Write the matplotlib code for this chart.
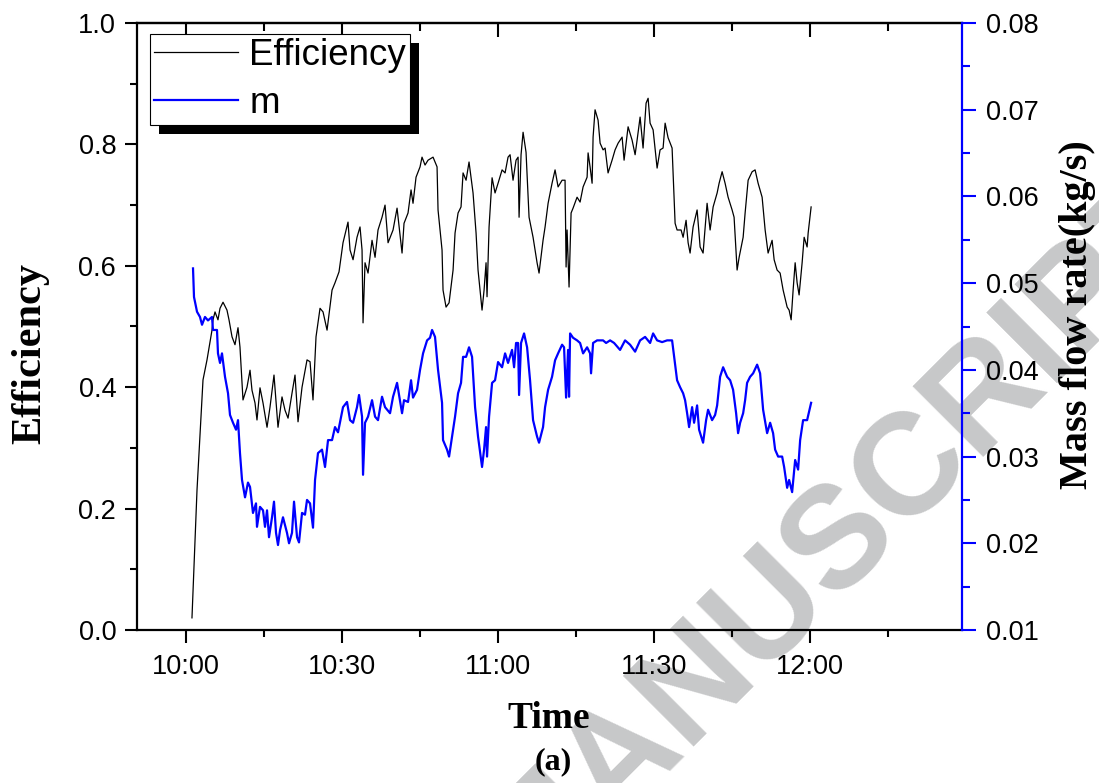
import matplotlib
matplotlib.use("Agg")
import matplotlib.pyplot as plt
from matplotlib.patches import Rectangle
from matplotlib.ticker import MultipleLocator

# ---- data (time in minutes after 10:00) ----
eff_t = [1.15, 2.12, 3.27, 4.04, 5.0, 5.19, 5.58, 6.15, 6.54, 7.12, 7.88, 8.27, 8.85, 9.42, 10.0,
         10.38, 10.96, 11.73, 12.31, 12.69, 13.27, 13.65, 14.23, 14.81, 15.58, 16.15, 16.92, 17.69,
         18.46, 19.04, 19.62, 20.38, 20.96, 21.54, 22.31, 23.27, 23.85, 24.42, 25.0, 25.77, 26.35,
         27.12, 28.08, 28.65, 29.42, 30.19, 31.15, 31.54, 32.12, 32.88, 33.46, 33.85, 34.04, 34.42,
         35.0, 35.77, 36.35, 36.92, 37.69, 38.27, 38.85, 39.81, 40.58, 41.54, 41.92, 42.69, 43.27,
         43.65, 44.23, 45.0, 45.38, 45.96, 46.54, 47.5, 48.27, 48.46, 49.23, 49.42, 50.0, 50.58,
         51.35, 51.73, 52.31, 52.88, 53.27, 53.85, 54.42, 55.19, 55.77, 56.15, 56.92, 57.31, 57.69,
         57.88, 58.27, 58.85, 59.42, 60.0, 60.77, 61.35, 61.92, 62.31, 62.88, 63.46, 63.85, 64.04,
         64.42, 64.81, 65.38, 65.96, 66.73, 67.5, 67.88, 68.65, 69.04, 69.62, 70.38, 70.96, 71.54,
         72.31, 72.88, 73.08, 73.27, 73.65, 74.04, 74.42, 75.19, 75.77, 76.35, 77.12, 77.31, 77.69,
         78.08, 78.27, 78.65, 79.23, 79.62, 80.19, 80.58, 81.15, 81.92, 82.5, 83.08, 83.85, 84.23,
         85.0, 85.77, 86.35, 86.73, 87.31, 87.88, 88.46, 88.85, 89.23, 89.81, 90.58, 91.15, 91.73,
         92.12, 92.69, 93.46, 94.04, 94.42, 95.19, 95.58, 96.15, 96.54, 96.92, 97.5, 98.27, 98.85,
         99.42, 100.19, 100.77, 101.35, 102.12, 102.5, 103.08, 103.65, 104.23, 105.0, 105.38,
         105.96, 106.35, 107.12, 107.5, 108.08, 108.85, 109.42, 110.0, 110.77, 111.35, 111.92,
         112.69, 113.08, 113.65, 114.23, 114.81, 115.58, 115.96, 116.35, 116.73, 117.12, 117.5,
         117.88, 118.46, 118.85, 119.42, 119.62, 120.19]
eff = [0.020, 0.231, 0.412, 0.445, 0.494, 0.511, 0.524, 0.511, 0.530, 0.540, 0.527, 0.511, 0.483,
       0.470, 0.498, 0.466, 0.379, 0.400, 0.428, 0.395, 0.374, 0.346, 0.399, 0.374, 0.334, 0.367,
       0.420, 0.334, 0.384, 0.362, 0.349, 0.390, 0.420, 0.343, 0.400, 0.445, 0.442, 0.379, 0.483,
       0.530, 0.524, 0.494, 0.560, 0.572, 0.590, 0.638, 0.672, 0.626, 0.610, 0.647, 0.664, 0.626,
       0.506, 0.605, 0.588, 0.642, 0.614, 0.659, 0.680, 0.700, 0.638, 0.659, 0.695, 0.621, 0.670,
       0.687, 0.725, 0.703, 0.746, 0.763, 0.779, 0.766, 0.774, 0.779, 0.763, 0.692, 0.626, 0.560,
       0.532, 0.539, 0.593, 0.654, 0.687, 0.697, 0.753, 0.741, 0.771, 0.720, 0.654, 0.593, 0.527,
       0.560, 0.605, 0.549, 0.664, 0.745, 0.720, 0.736, 0.758, 0.753, 0.779, 0.783, 0.741, 0.774,
       0.779, 0.680, 0.783, 0.820, 0.787, 0.680, 0.647, 0.605, 0.588, 0.642, 0.664, 0.703, 0.736,
       0.758, 0.730, 0.741, 0.741, 0.598, 0.659, 0.565, 0.687, 0.695, 0.713, 0.705, 0.730, 0.746,
       0.786, 0.763, 0.736, 0.812, 0.857, 0.840, 0.802, 0.791, 0.794, 0.753, 0.774, 0.791, 0.802,
       0.812, 0.774, 0.829, 0.807, 0.783, 0.807, 0.845, 0.794, 0.868, 0.876, 0.835, 0.824, 0.761,
       0.791, 0.794, 0.835, 0.811, 0.794, 0.670, 0.659, 0.659, 0.647, 0.675, 0.638, 0.621, 0.664,
       0.692, 0.631, 0.621, 0.703, 0.659, 0.697, 0.720, 0.736, 0.755, 0.736, 0.713, 0.692, 0.680,
       0.593, 0.614, 0.647, 0.687, 0.741, 0.755, 0.758, 0.736, 0.713, 0.659, 0.621, 0.642, 0.610,
       0.593, 0.588, 0.560, 0.532, 0.527, 0.511, 0.560, 0.605, 0.572, 0.552, 0.605, 0.647, 0.631,
       0.654, 0.697]

m_t = [1.35, 1.54, 2.12, 2.69, 3.08, 3.65, 4.23, 5.0, 5.19, 5.96, 6.15, 6.54, 6.92, 7.5, 8.08,
       8.46, 9.04, 9.62, 10.0, 10.38, 10.77, 11.35, 11.92, 12.31, 12.88, 13.46, 13.65, 14.23,
       14.81, 15.19, 15.58, 15.96, 16.54, 16.92, 17.31, 17.69, 18.08, 18.65, 19.42, 19.81, 20.38,
       20.77, 21.35, 21.73, 22.31, 22.88, 23.27, 23.85, 24.42, 24.81, 25.38, 26.15, 26.73, 27.31,
       28.08, 28.65, 29.23, 30.19, 30.96, 31.54, 32.12, 32.88, 33.27, 33.85, 34.04, 34.42, 35.0,
       35.77, 36.35, 36.92, 37.69, 38.27, 39.23, 39.81, 40.58, 41.54, 41.92, 42.69, 43.27, 43.65,
       44.42, 45.0, 45.58, 46.35, 46.92, 47.31, 47.88, 48.46, 49.23, 49.42, 50.19, 50.58, 51.15,
       51.73, 52.31, 52.88, 53.27, 53.85, 54.42, 55.0, 55.58, 56.15, 56.92, 57.31, 57.69, 57.88,
       58.27, 58.85, 59.42, 60.0, 60.77, 61.35, 61.92, 62.69, 63.08, 63.46, 63.85, 64.04, 64.42,
       65.0, 65.58, 66.15, 66.73, 67.5, 67.88, 68.65, 69.04, 69.62, 70.38, 70.96, 71.54, 72.31,
       72.69, 73.08, 73.46, 73.65, 73.85, 74.42, 75.19, 75.77, 76.35, 77.12, 77.69, 77.88, 78.27,
       79.04, 80.19, 80.77, 81.54, 82.31, 83.46, 84.42, 85.38, 86.35, 87.31, 88.27, 89.23, 89.81,
       90.58, 91.54, 92.5, 93.46, 93.85, 94.42, 95.0, 95.58, 95.96, 96.35, 96.73, 97.31, 97.69,
       98.27, 98.65, 99.42, 100.0, 100.38, 101.15, 101.73, 102.12, 102.69, 103.27, 104.04,
       104.62, 105.19, 105.77, 106.15, 106.54, 107.12, 107.5, 107.88, 108.46, 109.04, 109.81,
       110.38, 110.96, 111.73, 112.31, 112.88, 113.27, 113.85, 114.62, 115.0, 115.58, 115.96,
       116.54, 117.12, 117.69, 118.08, 118.65, 119.42, 120.19]
m_flow = [0.0517, 0.0484, 0.0467, 0.0461, 0.0452, 0.0461, 0.0457, 0.0461, 0.0446, 0.0446, 0.0419,
          0.0408, 0.0419, 0.0392, 0.0373, 0.0348, 0.0339, 0.0331, 0.0342, 0.0304, 0.0273, 0.0253,
          0.0270, 0.0265, 0.0235, 0.0246, 0.0219, 0.0242, 0.0238, 0.0219, 0.0238, 0.0207, 0.0230,
          0.0248, 0.0212, 0.0198, 0.0215, 0.0230, 0.0212, 0.0200, 0.0212, 0.0248, 0.0207, 0.0201,
          0.0235, 0.0233, 0.0250, 0.0246, 0.0218, 0.0273, 0.0304, 0.0308, 0.0288, 0.0319, 0.0319,
          0.0334, 0.0328, 0.0357, 0.0363, 0.0342, 0.0339, 0.0357, 0.0371, 0.0346, 0.0279, 0.0339,
          0.0346, 0.0365, 0.0346, 0.0342, 0.0369, 0.0357, 0.0350, 0.0369, 0.0385, 0.0350, 0.0365,
          0.0363, 0.0388, 0.0368, 0.0377, 0.0400, 0.0419, 0.0434, 0.0437, 0.0446, 0.0438, 0.0400,
          0.0362, 0.0319, 0.0308, 0.0300, 0.0323, 0.0346, 0.0373, 0.0385, 0.0415, 0.0415, 0.0426,
          0.0415, 0.0357, 0.0323, 0.0288, 0.0308, 0.0334, 0.0300, 0.0346, 0.0385, 0.0388, 0.0409,
          0.0403, 0.0419, 0.0408, 0.0423, 0.0403, 0.0431, 0.0431, 0.0371, 0.0431, 0.0442, 0.0426,
          0.0388, 0.0342, 0.0323, 0.0316, 0.0334, 0.0357, 0.0377, 0.0392, 0.0411, 0.0419, 0.0429,
          0.0426, 0.0368, 0.0423, 0.0369, 0.0442, 0.0437, 0.0434, 0.0431, 0.0419, 0.0426, 0.0419,
          0.0396, 0.0431, 0.0434, 0.0434, 0.0431, 0.0434, 0.0431, 0.0423, 0.0434, 0.0429, 0.0421,
          0.0434, 0.0438, 0.0431, 0.0442, 0.0434, 0.0432, 0.0434, 0.0434, 0.0415, 0.0388, 0.0380,
          0.0373, 0.0365, 0.0350, 0.0334, 0.0357, 0.0339, 0.0359, 0.0331, 0.0316, 0.0342, 0.0354,
          0.0342, 0.0348, 0.0359, 0.0392, 0.0403, 0.0392, 0.0388, 0.0377, 0.0350, 0.0327, 0.0339,
          0.0350, 0.0365, 0.0385, 0.0392, 0.0396, 0.0406, 0.0396, 0.0354, 0.0327, 0.0339, 0.0327,
          0.0308, 0.0300, 0.0300, 0.0288, 0.0264, 0.0273, 0.0259, 0.0296, 0.0285, 0.0319, 0.0342,
          0.0342, 0.0362]

time_ticks = [0, 30, 60, 90, 120]
time_labels = ["10:00", "10:30", "11:00", "11:30", "12:00"]
eff_ticks = [0.0, 0.2, 0.4, 0.6, 0.8, 1.0]
eff_labels = ["0.0", "0.2", "0.4", "0.6", "0.8", "1.0"]
m_ticks = [0.01, 0.02, 0.03, 0.04, 0.05, 0.06, 0.07, 0.08]
m_labels = ["0.01", "0.02", "0.03", "0.04", "0.05", "0.06", "0.07", "0.08"]
series_names = ["Efficiency", "m"]

# ---- figure ----
fig = plt.figure(figsize=(10.99, 7.83), dpi=100)
fig.patch.set_facecolor("white")
ax = fig.add_axes([137/1099, 1-630/783, (962-137)/1099, (630-23)/783])
ax.patch.set_visible(False)
ax2 = ax.twinx()
ax2.patch.set_visible(False)

sans = "Liberation Sans"
serif = "Liberation Serif"

l1, = ax.plot(eff_t, eff, color="black", lw=0.9, label=series_names[0])
l2, = ax2.plot(m_t, m_flow, color="#0000ff", lw=1.6, label=series_names[1])

ax.set_xlim(-9.42, 149.2)
ax.set_ylim(0, 1.0)
ax2.set_ylim(0.01, 0.08)

ax.set_xticks(time_ticks)
ax.set_xticklabels(time_labels)
ax.xaxis.set_minor_locator(MultipleLocator(15))
ax.set_yticks(eff_ticks)
ax.set_yticklabels(eff_labels)
ax.yaxis.set_minor_locator(MultipleLocator(0.1))
ax2.set_yticks(m_ticks)
ax2.set_yticklabels(m_labels)
ax2.yaxis.set_minor_locator(MultipleLocator(0.005))

for sp in ["left", "bottom", "top"]:
    ax.spines[sp].set_linewidth(1.6)
ax.spines["right"].set_visible(False)
for sp in ["left", "bottom", "top"]:
    ax2.spines[sp].set_visible(False)
ax2.spines["right"].set_color("#0000ff")
ax2.spines["right"].set_linewidth(1.6)

ax.tick_params(axis="both", which="major", direction="out", length=9, width=1.5,
               labelsize=19.5, pad=6)
ax.tick_params(axis="both", which="minor", direction="out", length=5, width=1.5)
ax.tick_params(axis="x", pad=8)
ax2.tick_params(axis="y", which="major", direction="out", length=10, width=1.5,
                colors="#0000ff", labelcolor="black", labelsize=19.5, pad=7)
ax2.tick_params(axis="y", which="minor", direction="out", length=6, width=1.5,
                colors="#0000ff")
for lab in ax.get_xticklabels() + ax.get_yticklabels() + ax2.get_yticklabels():
    lab.set_fontfamily(sans)

# top ticks pointing inward
top = ax.secondary_xaxis("top")
top.set_xticks(time_ticks)
top.xaxis.set_minor_locator(MultipleLocator(15))
top.tick_params(which="major", direction="in", length=10, width=1.5, labeltop=False)
top.tick_params(which="minor", direction="in", length=6, width=1.5)
top.spines["top"].set_linewidth(1.6)

# axis labels
fig.text(30/1099, 1-353/783, "Efficiency", rotation=90, ha="center", va="center",
         fontsize=30.5, fontweight="bold", family=serif)
fig.text(1078/1099, 1-315/783, "Mass flow rate(kg/s)", rotation=90, ha="center", va="center",
         fontsize=29, fontweight="bold", family=serif)
fig.text(549/1099, 1-719/783, "Time", ha="center", va="center",
         fontsize=27, fontweight="bold", family=serif)
fig.text(553/1099, 1-762/783, "(a)", ha="center", va="center",
         fontsize=23, fontweight="bold", family=serif)

# watermark (behind everything)
fig.text(547/1099, 1-840/783, "ACCEPTED MANUSCRIPT", rotation=45, rotation_mode="anchor",
         ha="center", va="center", fontsize=104, fontweight="bold", family=sans,
         color="#c7c8c9", zorder=-5)

# legend with offset black shadow
leg = ax2.legend(handles=[l1, l2], loc="upper left", bbox_to_anchor=(0.0158, 0.982),
                 borderaxespad=0, prop={"family": sans, "size": 26.5}, frameon=True,
                 fancybox=False, edgecolor="black", framealpha=1, handlelength=2.3,
                 handletextpad=0.3, labelspacing=0.36, borderpad=0.1)
leg.get_frame().set_linewidth(0.8)
leg.set_zorder(11)
ax2.set_zorder(1)
fig.canvas.draw()
bb = leg.get_window_extent()
shadow = Rectangle((bb.x0 + 9, bb.y0 - 9), bb.width, bb.height, transform=None,
                   facecolor="black", edgecolor="none", zorder=0.5)
fig.add_artist(shadow)

fig.savefig("out.png", dpi=100)
